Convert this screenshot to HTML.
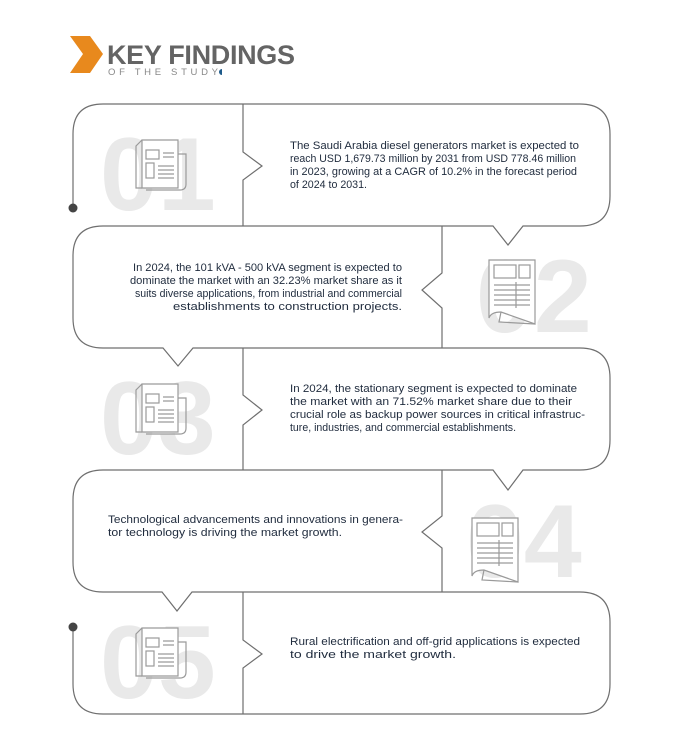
<!DOCTYPE html>
<html><head><meta charset="utf-8"><style>
html,body{margin:0;padding:0;background:#fff;}
svg{display:block;}
.t{font-family:"Liberation Sans",sans-serif;font-size:11.2px;fill:#1f2b3d;}
.n{font-family:"Liberation Sans",sans-serif;font-weight:bold;font-size:104px;fill:#e9e9e9;}
</style></head><body>
<svg width="690" height="745" viewBox="0 0 690 745" xmlns="http://www.w3.org/2000/svg">
<defs>
<g id="ic1" fill="none" stroke="#9a9a9a" stroke-width="1.2">
<path d="M6,4 H42 V52 H6 Z" fill="#fff"/>
<path d="M6,4 L0,10 V52 H6"/>
<path d="M42,18 H50 V48 Q50,54 44,54 H10"/>
<rect x="10" y="14" width="13" height="9"/><rect x="10" y="27" width="8" height="15"/>
<path d="M27,17h11M27,21h11M22,30h16M22,34h16M22,38h16M22,42h16"/>
</g>
<g id="ic2" fill="none" stroke="#9a9a9a" stroke-width="1.2">
<path d="M0,0 H46 V64 L12,52 Q2,52 0,58 Z" fill="#fff"/>
<rect x="5" y="5" width="22" height="13"/><rect x="30" y="5" width="11" height="13"/>
<path d="M5,25h36M5,30h36M5,35h36M5,40h36M5,45h36M27,22v26"/>
<path d="M12,52 L10,62 L46,64"/>
</g>
</defs>
<!-- header -->
<polygon points="70,36 90,36 103,54 90,73 70,73 83,54" fill="#e8891d"/>
<text x="107" y="64" font-family="Liberation Sans,sans-serif" font-weight="bold" font-size="27" fill="#646464" textLength="188">KEY FINDINGS</text>
<text x="108" y="75" font-family="Liberation Sans,sans-serif" font-size="9.5" fill="#888" textLength="110">OF THE STUDY</text>
<path d="M222,69 a3,3 0 0 0 0,6 Z" fill="#1d5a8a"/>
<!-- numbers -->
<text class="n" x="100" y="210">01</text>
<text class="n" x="476" y="332">02</text>
<text class="n" x="100" y="454">03</text>
<text class="n" x="466" y="577">04</text>
<text class="n" x="100" y="698">05</text>
<use href="#ic1" x="136" y="136"/>
<use href="#ic2" x="489" y="260"/>
<use href="#ic1" x="136" y="380"/>
<use href="#ic2" x="472" y="518"/>
<use href="#ic1" x="136" y="624"/>
<!-- outline -->
<g fill="none" stroke="#6f6f6f" stroke-width="1.2">
<path d="M73,208 V134 Q73,104 103,104 H580 Q610,104 610,134 V196 Q610,226 580,226 H523 L508,245 L493,226 H103 Q73,226 73,256 V318 Q73,348 103,348 H163 L178,366 L193,348 H580 Q610,348 610,378 V440 Q610,470 580,470 H523 L508,490 L493,470 H103 Q73,470 73,500 V562 Q73,592 103,592 H162 L177,611 L192,592 H580 Q610,592 610,622 V684 Q610,714 580,714 H103 Q73,714 73,684 V627"/>
<path d="M243,104 V152 L262,166 L243,180 V226"/>
<path d="M442,226 V273 L422,290 L442,308 V348"/>
<path d="M243,348 V395 L262,410 L243,425 V470"/>
<path d="M442,470 V516 L422,532 L442,548 V592"/>
<path d="M243,592 V640 L262,654 L243,668 V714"/>
</g>
<circle cx="73" cy="208" r="4.5" fill="#444"/>
<circle cx="73" cy="627" r="4.5" fill="#444"/>
<!-- texts -->
<text class="t" x="290" y="149" textLength="289" lengthAdjust="spacingAndGlyphs">The Saudi Arabia diesel generators market is expected to</text>
<text class="t" x="290" y="162" textLength="286" lengthAdjust="spacingAndGlyphs">reach USD 1,679.73 million by 2031 from USD 778.46 million</text>
<text class="t" x="290" y="175" textLength="287" lengthAdjust="spacingAndGlyphs">in 2023, growing at a CAGR of 10.2% in the forecast period</text>
<text class="t" x="290" y="188" textLength="77" lengthAdjust="spacingAndGlyphs">of 2024 to 2031.</text>

<text class="t" x="133" y="271" textLength="269" lengthAdjust="spacingAndGlyphs">In 2024, the 101 kVA - 500 kVA segment is expected to</text>
<text class="t" x="130" y="284" textLength="272" lengthAdjust="spacingAndGlyphs">dominate the market with an 32.23% market share as it</text>
<text class="t" x="135" y="297" textLength="267" lengthAdjust="spacingAndGlyphs">suits diverse applications, from industrial and commercial</text>
<text class="t" x="173" y="310" textLength="229" lengthAdjust="spacingAndGlyphs">establishments to construction projects.</text>

<text class="t" x="290" y="392" textLength="287" lengthAdjust="spacingAndGlyphs">In 2024, the stationary segment is expected to dominate</text>
<text class="t" x="290" y="405" textLength="282" lengthAdjust="spacingAndGlyphs">the market with an 71.52% market share due to their</text>
<text class="t" x="290" y="418" textLength="295" lengthAdjust="spacingAndGlyphs">crucial role as backup power sources in critical infrastruc-</text>
<text class="t" x="290" y="431" textLength="226" lengthAdjust="spacingAndGlyphs">ture, industries, and commercial establishments.</text>

<text class="t" x="108" y="523" textLength="295" lengthAdjust="spacingAndGlyphs">Technological advancements and innovations in genera-</text>
<text class="t" x="108" y="536" textLength="234" lengthAdjust="spacingAndGlyphs">tor technology is driving the market growth.</text>

<text class="t" x="290" y="645" textLength="290" lengthAdjust="spacingAndGlyphs">Rural electrification and off-grid applications is expected</text>
<text class="t" x="290" y="658" textLength="166" lengthAdjust="spacingAndGlyphs">to drive the market growth.</text>
</svg>
</body></html>
